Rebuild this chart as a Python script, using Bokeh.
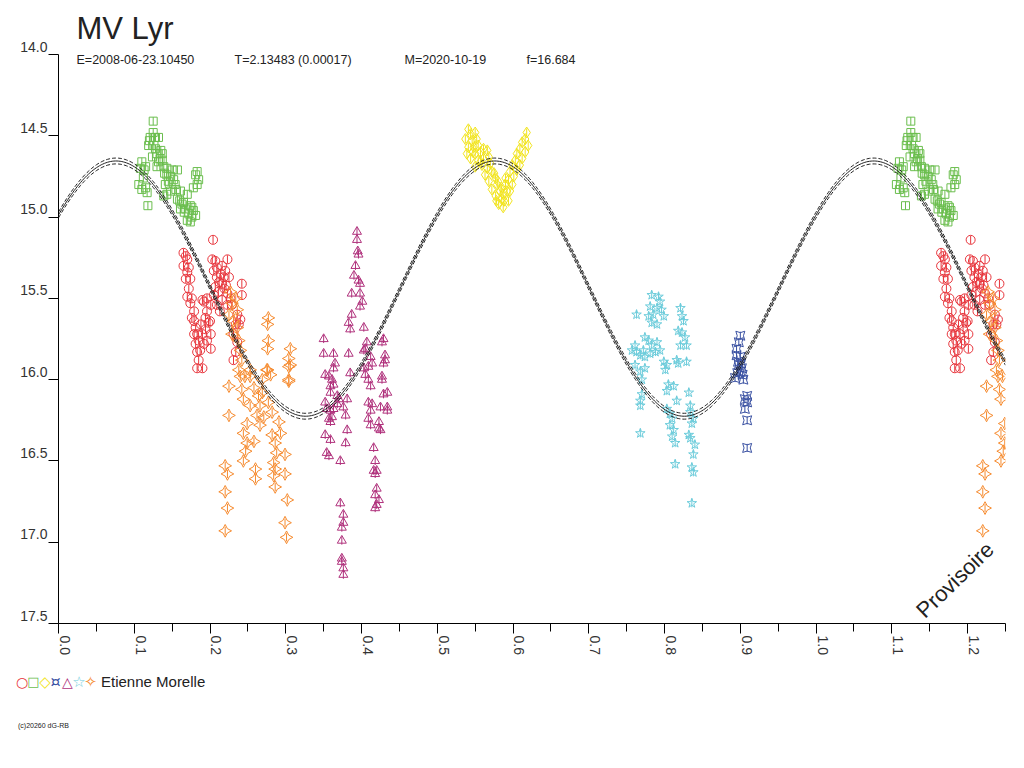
import math
import numpy as np
from bokeh.plotting import figure
from bokeh.models import Range1d, Label, FixedTicker, LinearAxis, ColumnDataSource, Div
from bokeh.layouts import column
from bokeh.embed import file_html
from bokeh.resources import INLINE

# ---------------- texts ----------------
TITLE = "MV Lyr"
SUBTITLE = ["E=2008-06-23.10450", "T=2.13483 (0.00017)", "M=2020-10-19", "f=16.684"]
OBSERVER = "Etienne Morelle"
STAMP = "(c)20260 dG-RB"
WATERMARK = "Provisoire"

# ---------------- axes ----------------
X_MIN, X_MAX = 0.0, 1.25
Y_TOP, Y_BOTTOM = 14.0, 17.5
X_TICKS = [0.0, 0.1, 0.2, 0.3, 0.4, 0.5, 0.6, 0.7, 0.8, 0.9, 1.0, 1.1, 1.2]
X_TICK_LABELS = ["0.0", "0.1", "0.2", "0.3", "0.4", "0.5", "0.6", "0.7", "0.8", "0.9", "1.0", "1.1", "1.2"]
X_MINOR_TICKS = [0.05, 0.15, 0.25, 0.35, 0.45, 0.55, 0.65, 0.75, 0.85, 0.95, 1.05, 1.15, 1.25]
Y_TICKS = [14.0, 14.5, 15.0, 15.5, 16.0, 16.5, 17.0, 17.5]
Y_TICK_LABELS = ["14.0", "14.5", "15.0", "15.5", "16.0", "16.5", "17.0", "17.5"]

# ---------------- fitted sine (model) ----------------
FIT_MEAN = 15.44
FIT_AMP = 0.785
FIT_MAX_PHASE = 0.076
FIT_WAVE = 0.5          # phase length of one wave of the fit
FIT_BAND = 0.018        # half width of the dashed envelope
ERR = 0.025             # error bar half length (mag)

# ---------------- observations (phase, magnitude) ----------------
red_phase = [0.165, 0.168, 0.170, 0.165, 0.172, 0.170, 0.168, 0.174, 0.172, 0.170,
             0.176, 0.174, 0.179, 0.176, 0.179, 0.181, 0.183, 0.179, 0.185, 0.181,
             0.183, 0.187, 0.185, 0.183, 0.190, 0.203, 0.207, 0.223, 0.216, 0.209,
             0.205, 0.220, 0.214, 0.209, 0.218, 0.225, 0.216, 0.207, 0.211, 0.223,
             0.216, 0.209, 0.223, 0.229, 0.196, 0.192, 0.190, 0.201, 0.196, 0.194,
             0.198, 0.194, 0.201, 0.196, 0.201, 0.190, 0.192, 0.204, 0.242, 0.242,
             0.236, 0.240, 0.238, 0.231, 0.236, 0.234, 0.231, 0.234,
             0.212, 0.219, 0.205, 0.227, 0.213, 0.200, 0.188, 0.221]
red_mag = [15.22, 15.24, 15.26, 15.30, 15.31, 15.34, 15.38, 15.38, 15.44, 15.49,
           15.50, 15.53, 15.58, 15.62, 15.64, 15.68, 15.72, 15.72, 15.76, 15.78,
           15.83, 15.82, 15.88, 15.93, 15.93, 15.26, 15.27, 15.26, 15.30, 15.31,
           15.33, 15.33, 15.35, 15.37, 15.37, 15.37, 15.41, 15.43, 15.46, 15.47,
           15.51, 15.54, 15.54, 15.54, 15.50, 15.52, 15.51, 15.54, 15.58, 15.62,
           15.65, 15.69, 15.72, 15.76, 15.81, 15.72, 15.78, 15.14, 15.41, 15.48,
           15.60, 15.63, 15.66, 15.72, 15.77, 15.83, 15.88, 15.66,
           15.40, 15.44, 15.48, 15.50, 15.58, 15.64, 15.66, 15.42]

green_phase = [0.125, 0.125, 0.121, 0.128, 0.132, 0.119, 0.126, 0.128, 0.135, 0.130,
               0.137, 0.110, 0.115, 0.108, 0.113, 0.132, 0.137, 0.139, 0.130, 0.143,
               0.150, 0.157, 0.143, 0.152, 0.148, 0.141, 0.154, 0.106, 0.115, 0.117,
               0.110, 0.118, 0.143, 0.139, 0.148, 0.161, 0.170, 0.165, 0.174, 0.161,
               0.172, 0.176, 0.170, 0.174, 0.183, 0.181, 0.185, 0.183, 0.178, 0.157,
               0.163, 0.168, 0.178, 0.181,
               0.120, 0.124, 0.134, 0.145, 0.155, 0.166, 0.176, 0.112, 0.140, 0.160]
green_mag = [14.41, 14.48, 14.51, 14.51, 14.51, 14.56, 14.56, 14.58, 14.59, 14.61,
             14.61, 14.66, 14.69, 14.70, 14.71, 14.66, 14.65, 14.69, 14.69, 14.70,
             14.71, 14.71, 14.74, 14.77, 14.75, 14.80, 14.80, 14.80, 14.82, 14.85,
             14.83, 14.93, 14.86, 14.87, 14.84, 14.84, 14.86, 14.91, 14.93, 14.95,
             14.98, 15.00, 15.02, 15.03, 14.72, 14.74, 14.77, 14.80, 14.82, 14.89,
             14.92, 14.95, 14.96, 14.99,
             14.53, 14.63, 14.64, 14.78, 14.83, 14.97, 14.94, 14.76, 14.73, 14.90]

yellow_phase = [0.541, 0.544, 0.550, 0.537, 0.546, 0.552, 0.541, 0.548, 0.554, 0.539,
                0.550, 0.557, 0.561, 0.566, 0.544, 0.554, 0.561, 0.568, 0.570, 0.559,
                0.550, 0.566, 0.572, 0.563, 0.577, 0.568, 0.579, 0.572, 0.583, 0.577,
                0.585, 0.581, 0.587,
                0.618, 0.616, 0.612, 0.620, 0.609, 0.616, 0.605, 0.612, 0.603, 0.609,
                0.599, 0.605, 0.596, 0.601, 0.594, 0.599, 0.590, 0.592, 0.587, 0.594,
                0.575, 0.580, 0.590, 0.585, 0.578, 0.588, 0.596, 0.557, 0.547]
yellow_mag = [14.46, 14.49, 14.48, 14.52, 14.53, 14.52, 14.57, 14.57, 14.56, 14.61,
              14.61, 14.60, 14.58, 14.59, 14.64, 14.65, 14.64, 14.63, 14.67, 14.68,
              14.69, 14.70, 14.72, 14.74, 14.76, 14.78, 14.80, 14.83, 14.84, 14.87,
              14.89, 14.92, 14.94,
              14.48, 14.52, 14.54, 14.56, 14.58, 14.60, 14.61, 14.64, 14.65, 14.68,
              14.68, 14.71, 14.72, 14.75, 14.77, 14.80, 14.80, 14.84, 14.86, 14.90,
              14.73, 14.78, 14.76, 14.82, 14.90, 14.90, 14.84, 14.66, 14.60]

blue_phase = [0.900, 0.898, 0.895, 0.895, 0.900, 0.898, 0.902, 0.900, 0.893, 0.904,
              0.909, 0.906, 0.909, 0.906, 0.909, 0.909, 0.897, 0.901, 0.896, 0.903]
blue_mag = [15.73, 15.77, 15.81, 15.85, 15.86, 15.91, 15.93, 15.95, 15.99, 16.00,
            16.10, 16.12, 16.14, 16.18, 16.25, 16.42, 15.89, 15.90, 15.96, 15.97]

purple_phase = [0.394, 0.394, 0.395, 0.396, 0.392, 0.390, 0.396, 0.398, 0.387, 0.398,
                0.401, 0.398, 0.387, 0.383, 0.385, 0.403, 0.350, 0.429, 0.427, 0.407,
                0.405, 0.403, 0.350, 0.363, 0.383, 0.431, 0.431, 0.429, 0.365, 0.363,
                0.412, 0.414, 0.409, 0.403, 0.352, 0.357, 0.361, 0.363, 0.359, 0.385,
                0.405, 0.409, 0.427, 0.427, 0.412, 0.429, 0.434, 0.359, 0.368, 0.370,
                0.368, 0.363, 0.359, 0.354, 0.352, 0.381, 0.376, 0.379, 0.409, 0.414,
                0.412, 0.425, 0.434, 0.434, 0.409, 0.412, 0.423, 0.423, 0.425, 0.357,
                0.361, 0.359, 0.352, 0.359, 0.381, 0.379, 0.354, 0.357, 0.372, 0.416,
                0.418, 0.416, 0.420, 0.418, 0.420, 0.418, 0.423, 0.420, 0.418, 0.372,
                0.376, 0.376, 0.374, 0.374, 0.374, 0.374, 0.376, 0.376]
purple_mag = [15.09, 15.14, 15.21, 15.23, 15.30, 15.36, 15.39, 15.41, 15.47, 15.47,
              15.52, 15.55, 15.60, 15.65, 15.69, 15.68, 15.75, 15.75, 15.77, 15.77,
              15.81, 15.82, 15.84, 15.84, 15.84, 15.85, 15.88, 15.90, 15.90, 15.93,
              15.86, 15.90, 15.92, 15.93, 15.97, 15.98, 16.00, 16.03, 16.04, 15.96,
              15.97, 16.00, 15.98, 16.00, 16.04, 16.09, 16.08, 16.08, 16.10, 16.12,
              16.15, 16.18, 16.19, 16.18, 16.14, 16.12, 16.17, 16.22, 16.14, 16.15,
              16.19, 16.17, 16.17, 16.19, 16.24, 16.28, 16.26, 16.30, 16.31, 16.24,
              16.23, 16.26, 16.34, 16.37, 16.31, 16.39, 16.45, 16.47, 16.50, 16.42,
              16.50, 16.56, 16.56, 16.58, 16.67, 16.71, 16.74, 16.77, 16.79, 16.76,
              16.83, 16.88, 16.91, 16.99, 17.10, 17.12, 17.16, 17.20]

cyan_phase = [0.783, 0.792, 0.794, 0.763, 0.781, 0.790, 0.796, 0.785, 0.779, 0.799,
              0.783, 0.790, 0.821, 0.823, 0.825, 0.818, 0.823, 0.827, 0.821, 0.829,
              0.774, 0.779, 0.783, 0.790, 0.761, 0.757, 0.763, 0.772, 0.768, 0.774,
              0.781, 0.788, 0.794, 0.799, 0.803, 0.801, 0.816, 0.818, 0.829, 0.761,
              0.768, 0.774, 0.770, 0.805, 0.812, 0.803, 0.770, 0.768, 0.768, 0.816,
              0.832, 0.834, 0.803, 0.807, 0.810, 0.834, 0.838, 0.836, 0.807, 0.812,
              0.810, 0.814, 0.832, 0.834, 0.840, 0.768, 0.838, 0.814, 0.836, 0.838,
              0.836]
cyan_mag = [15.48, 15.49, 15.52, 15.60, 15.55, 15.56, 15.57, 15.60, 15.61, 15.61,
            15.65, 15.66, 15.56, 15.61, 15.64, 15.70, 15.71, 15.74, 15.79, 15.79,
            15.74, 15.76, 15.79, 15.77, 15.79, 15.82, 15.83, 15.82, 15.85, 15.86,
            15.84, 15.83, 15.82, 15.89, 15.91, 15.94, 15.88, 15.90, 15.89, 15.91,
            15.95, 15.93, 16.00, 16.03, 16.04, 16.07, 16.09, 16.13, 16.16, 16.13,
            16.08, 16.16, 16.18, 16.21, 16.24, 16.20, 16.24, 16.27, 16.28, 16.31,
            16.35, 16.39, 16.34, 16.36, 16.40, 16.33, 16.46, 16.52, 16.54, 16.57,
            16.76]

orange_phase = [0.227, 0.234, 0.229, 0.236, 0.225, 0.231, 0.236, 0.229, 0.238, 0.240,
                0.242, 0.238, 0.246, 0.253, 0.277, 0.276, 0.277, 0.276, 0.306, 0.304,
                0.306, 0.276, 0.269, 0.304,
                0.225, 0.225, 0.220, 0.223, 0.220, 0.223, 0.220, 0.275, 0.280, 0.304,
                0.304, 0.240, 0.253, 0.242, 0.258, 0.244, 0.264, 0.269, 0.253, 0.266,
                0.277, 0.282, 0.262, 0.271, 0.249, 0.266, 0.244, 0.291, 0.293, 0.282,
                0.249, 0.258, 0.286, 0.288, 0.247, 0.299, 0.244, 0.284, 0.286, 0.260,
                0.260, 0.284, 0.299, 0.286, 0.302, 0.299, 0.301]
orange_mag = [15.46, 15.50, 15.53, 15.57, 15.60, 15.64, 15.68, 15.72, 15.76, 15.82,
              15.88, 15.94, 15.98, 15.94, 15.62, 15.66, 15.76, 15.81, 15.81, 15.87,
              15.91, 15.94, 16.00, 16.00,
              16.04, 16.22, 16.53, 16.58, 16.69, 16.79, 16.93, 15.94, 15.97, 15.92,
              16.01, 15.98, 15.98, 16.06, 16.05, 16.12, 16.10, 16.08, 16.16, 16.16,
              16.14, 16.20, 16.22, 16.23, 16.27, 16.28, 16.33, 16.26, 16.33, 16.34,
              16.39, 16.38, 16.39, 16.45, 16.44, 16.46, 16.50, 16.51, 16.55, 16.55,
              16.61, 16.59, 16.58, 16.66, 16.74, 16.88, 16.97]

RED, GREEN, YELLOW, BLUE = "#E8353C", "#6BBE4E", "#F2E41C", "#3B52A3"
PURPLE, CYAN, ORANGE = "#B0317C", "#6CCCDB", "#F68B2F"
INK = "#222222"
FONT = "Liberation Sans"

# (phase, mag, marker, colour, size, angle, legend symbol, legend symbol size)
SERIES = [
    (red_phase, red_mag, "circle", RED, 9, 0.0, "\u25cb", 14),
    (green_phase, green_mag, "square", GREEN, 8, 0.0, "\u25a1", 13),
    (yellow_phase, yellow_mag, "diamond", YELLOW, 11, 0.0, "\u25c7", 15),
    (blue_phase, blue_mag, "square_pin", BLUE, 9, 0.0, "\u00a4", 16),
    (purple_phase, purple_mag, "triangle", PURPLE, 9, 0.0, "\u25b3", 14),
    (cyan_phase, cyan_mag, "star", CYAN, 10, 0.0, "\u2606", 15),
    (orange_phase, orange_mag, "square_pin", ORANGE, 9, math.pi / 4, "\u2727", 15),
]
LEGEND_CX = [22, 33.5, 45, 55.5, 67.5, 79, 90.5]   # legend symbol centres (px)

W, H = 1016, 668
BL, BR, BT, BB = 58, 11, 48, 45
frame_w = W - BL - BR
frame_h = H - BT - BB
px_x = frame_w / (X_MAX - X_MIN)     # pixels per phase unit
px_y = frame_h / (Y_BOTTOM - Y_TOP)  # pixels per magnitude

p = figure(width=W, height=H, x_range=Range1d(X_MIN, X_MAX), y_range=Range1d(Y_BOTTOM, Y_TOP),
           output_backend="svg", toolbar_location=None, x_axis_type=None, y_axis_type=None,
           min_border_left=BL, min_border_right=BR, min_border_top=BT, min_border_bottom=BB)
p.outline_line_color = None
p.xgrid.visible = False
p.ygrid.visible = False
p.background_fill_color = "white"
p.border_fill_color = "white"

p.title.text = TITLE
p.title.text_font = FONT
p.title.text_font_size = "31px"
p.title.text_font_style = "normal"
p.title.text_color = INK
p.title.align = "left"
p.title.offset = 18
p.title.standoff = 17

NBSP = "\u00a0"
xa = LinearAxis(ticker=FixedTicker(ticks=X_TICKS, minor_ticks=X_MINOR_TICKS))
xa.major_tick_out = 10
xa.major_tick_in = 0
xa.minor_tick_out = 8
xa.minor_tick_in = 0
xa.axis_line_color = "black"
xa.major_tick_line_color = "black"
xa.minor_tick_line_color = "black"
xa.major_label_orientation = -math.pi / 2
xa.major_label_standoff = 2
xa.major_label_text_font = FONT
xa.major_label_text_font_size = "14px"
xa.major_label_text_line_height = 0.8
xa.major_label_text_color = "#333333"
xa.major_label_overrides = {v: t + "\n" + NBSP for v, t in zip(X_TICKS, X_TICK_LABELS)}
p.add_layout(xa, "below")

ya = LinearAxis(ticker=FixedTicker(ticks=Y_TICKS, minor_ticks=[]))
ya.major_tick_out = 10
ya.major_tick_in = 0
ya.minor_tick_out = 0
ya.minor_tick_in = 0
ya.axis_line_color = "black"
ya.major_tick_line_color = "black"
ya.major_label_standoff = 1
ya.major_label_text_font = FONT
ya.major_label_text_font_size = "14px"
ya.major_label_text_line_height = 1.0
ya.major_label_text_color = "#333333"
ya.major_label_overrides = {v: t + "\n" + NBSP for v, t in zip(Y_TICKS, Y_TICK_LABELS)}
p.add_layout(ya, "left")

# data
for ph, mg, marker, color, size, ang, sym, ssz in SERIES:
    xs = list(ph) + [v + 1 for v in ph if v + 1 <= X_MAX]
    ys = list(mg) + [m for v, m in zip(ph, mg) if v + 1 <= X_MAX]
    src = ColumnDataSource(dict(x=xs, y=ys,
                                lo=[y - ERR for y in ys], hi=[y + ERR for y in ys]))
    p.segment(x0="x", y0="lo", x1="x", y1="hi", source=src, line_color=color, line_width=1)
    p.scatter(x="x", y="y", source=src, marker=marker, size=size, angle=ang,
              line_color=color, fill_color=None, line_width=1)

# fitted curve with envelope
phi = np.linspace(X_MIN, X_MAX, 600)
fit = FIT_MEAN - FIT_AMP * np.cos(2 * np.pi * (phi - FIT_MAX_PHASE) / FIT_WAVE)
p.line(phi, fit, line_color=INK, line_width=1)
p.line(phi, fit - FIT_BAND, line_color=INK, line_width=1, line_dash="4 2")
p.line(phi, fit + FIT_BAND, line_color=INK, line_width=1, line_dash="4 2")

# header line inside the frame
for xpix, t in zip([18, 176, 346, 468], SUBTITLE):
    p.add_layout(Label(x=X_MIN + xpix / px_x, y=Y_TOP + 6 / px_y, text=t,
                       text_align="left", text_baseline="alphabetic",
                       text_font=FONT, text_font_size="12.5px", text_color=INK))

p.add_layout(Label(x=1.137, y=17.44, text=WATERMARK, angle=math.radians(44),
                   text_align="left", text_baseline="alphabetic",
                   text_font=FONT, text_font_size="22px", text_color=INK))

# legend strip + stamp
LH = 88
CY = 14
spans = []
for (ph, mg, marker, color, size, ang, sym, ssz), cx in zip(SERIES, LEGEND_CX):
    spans.append(f'<span style="position:absolute;left:{cx - 8:.1f}px;top:{CY - 9}px;width:16px;'
                 f'height:18px;line-height:18px;text-align:center;font-family:\'DejaVu Sans\';'
                 f'font-size:{ssz}px;color:{color}">{sym}</span>')
spans.append(f'<span style="position:absolute;left:101px;top:{CY - 9}px;height:18px;line-height:18px;'
             f'font-family:\'{FONT}\';font-size:15px;color:{INK};white-space:nowrap">{OBSERVER}</span>')
spans.append(f'<span style="position:absolute;left:18px;top:54px;line-height:8px;'
             f'font-family:\'{FONT}\';font-size:7px;color:{INK};white-space:nowrap">{STAMP}</span>')
legend_html = (f'<div style="position:relative;width:{W}px;height:{LH}px;margin:0;padding:0">'
               + "".join(spans) + "</div>")
legend = Div(text=legend_html, width=W, height=LH, margin=(0, 0, 0, 0))

layout = column(p, legend, spacing=0)
open("out.html", "w").write(file_html(layout, INLINE))
